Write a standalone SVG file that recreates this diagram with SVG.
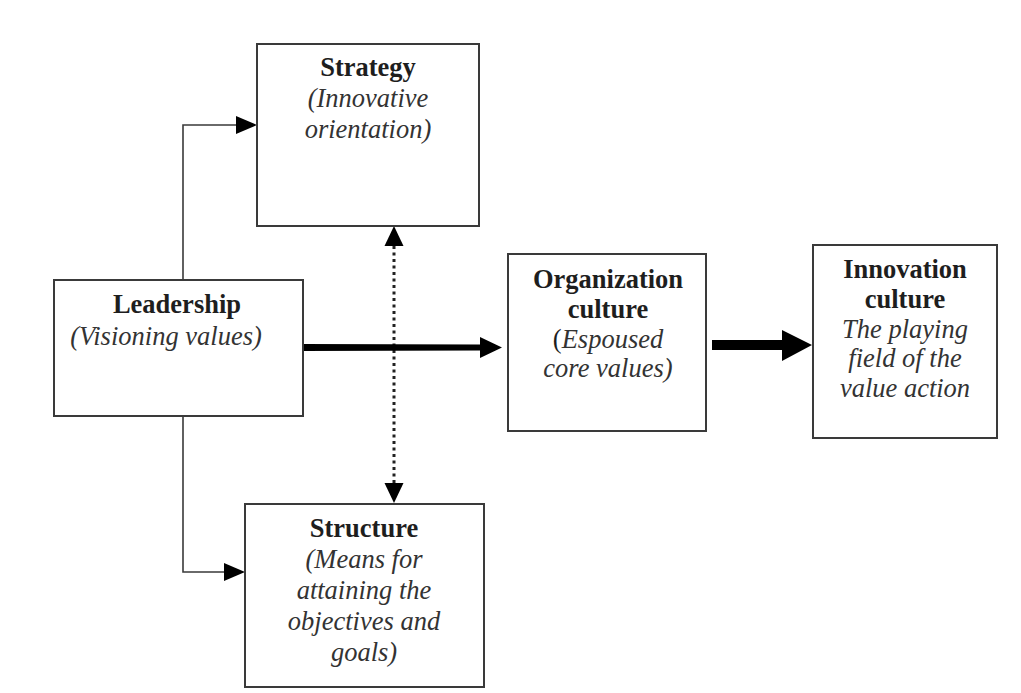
<svg xmlns="http://www.w3.org/2000/svg" width="1021" height="693" viewBox="0 0 1021 693">
  <defs>
    <style>
      .box { fill: #ffffff; stroke: #3a3a3a; stroke-width: 2; }
      .t { font-family: "Liberation Serif", "Times New Roman", serif; font-size: 26.5px; text-anchor: middle; fill: #1e1e1e; }
      .b { font-weight: bold; }
      .i { font-style: italic; fill: #333333; }
      .thin { fill: none; stroke: #3a3a3a; stroke-width: 1.6; }
      .dots { fill: none; stroke: #222; stroke-width: 3; stroke-dasharray: 3 3.5; }
      .head { fill: #000; }
    </style>
  </defs>
  <rect width="1021" height="693" fill="#ffffff"/>

  <!-- connectors -->
  <g id="connectors">
    <!-- Leadership up to Strategy -->
    <polyline class="thin" points="183,280 183,125 236,125"/>
    <polygon class="head" points="257,125 236,116 236,134"/>
    <!-- Leadership down to Structure -->
    <polyline class="thin" points="183,416 183,572 225,572"/>
    <polygon class="head" points="245,572 224,563 224,581"/>
    <!-- Strategy <-> Structure (dotted, both ends) -->
    <line class="dots" x1="394" y1="246" x2="394" y2="484"/>
    <polygon class="head" points="394,226 384.5,246 403.5,246"/>
    <polygon class="head" points="394,503 384.5,483 403.5,483"/>
    <!-- Leadership to Organization culture (thick) -->
    <polygon class="head" points="303,344 480,344.5 480,337 502,347.5 480,358 480,350.5 303,351"/>
    <!-- Organization culture to Innovation culture (thicker) -->
    <polygon class="head" points="712,340 782,340 782,330 812,345 782,361 782,350 712,350"/>
  </g>

  <g id="strategy">
    <rect class="box" x="257" y="44" width="222" height="182"/>
    <text class="t b" x="368" y="76">Strategy</text>
    <text class="t i" x="368" y="107">(Innovative</text>
    <text class="t i" x="368" y="138">orientation)</text>
  </g>

  <g id="leadership">
    <rect class="box" x="54" y="280" width="249" height="136"/>
    <text class="t b" x="177" y="313">Leadership</text>
    <text class="t i" x="166" y="345">(Visioning values)</text>
  </g>

  <g id="structure">
    <rect class="box" x="245" y="504" width="239" height="183"/>
    <text class="t b" x="364" y="537">Structure</text>
    <text class="t i" x="364" y="568">(Means for</text>
    <text class="t i" x="364" y="599">attaining the</text>
    <text class="t i" x="364" y="630">objectives and</text>
    <text class="t i" x="364" y="661">goals)</text>
  </g>

  <g id="organization-culture">
    <rect class="box" x="508" y="254" width="198" height="177"/>
    <text class="t b" x="608" y="288">Organization</text>
    <text class="t b" x="608" y="318">culture</text>
    <text class="t" x="608" y="348" fill="#333333">(<tspan class="i">Espoused</tspan></text>
    <text class="t i" x="608" y="377">core values)</text>
  </g>

  <g id="innovation-culture">
    <rect class="box" x="813" y="245" width="184" height="193"/>
    <text class="t b" x="905" y="278">Innovation</text>
    <text class="t b" x="905" y="308">culture</text>
    <text class="t i" x="905" y="338">The playing</text>
    <text class="t i" x="905" y="367">field of the</text>
    <text class="t i" x="905" y="397">value action</text>
  </g>
</svg>
